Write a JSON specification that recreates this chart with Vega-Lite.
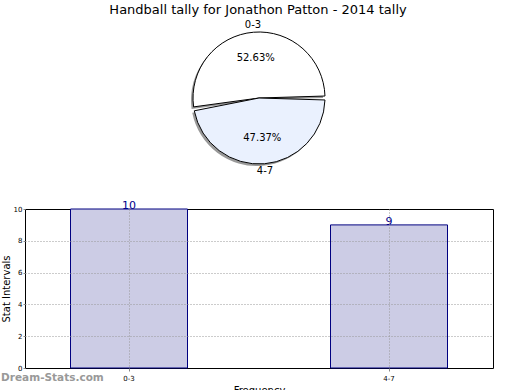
{
  "$schema": "https://vega.github.io/schema/vega-lite/v6.json",
  "padding": {"left": 0, "top": 3, "right": 0, "bottom": 0},
  "background": "white",
  "config": {
    "font": "DejaVu Sans",
    "view": {"stroke": null},
    "title": {"fontSize": 13, "fontWeight": "normal", "color": "black", "offset": 1.5}
  },
  "title": {"text": "Handball tally for Jonathon Patton - 2014 tally", "anchor": "middle", "dx": 11},
  "datasets": {
    "tally": [
      {"bin": "0-3", "count": 10, "pct": "52.63%"},
      {"bin": "4-7", "count": 9, "pct": "47.37%"}
    ]
  },
  "spacing": 21,
  "vconcat": [
    {
      "width": 468,
      "height": 160,
      "view": {"stroke": null},
      "data": {"name": "tally"},
      "encoding": {
        "theta": {"field": "count", "type": "quantitative", "stack": true, "scale": {"range": [1.5707963, 7.8539816]}},
        "order": {"field": "bin", "type": "ordinal", "sort": "descending"}
      },
      "layer": [
        {
          "mark": {"type": "arc", "outerRadius": 66, "padAngle": 0.06, "fill": "#999999", "xOffset": -2, "yOffset": 2}
        },
        {
          "mark": {"type": "arc", "outerRadius": 66, "padAngle": 0.06, "stroke": "black", "strokeWidth": 1},
          "encoding": {
            "color": {"field": "bin", "type": "nominal", "scale": {"domain": ["0-3", "4-7"], "range": ["#ffffff", "#eaf1fe"]}, "legend": null}
          }
        },
        {
          "mark": {"type": "text", "radius": 73, "fontSize": 10, "color": "black"},
          "encoding": {"text": {"field": "bin"}}
        },
        {
          "mark": {"type": "text", "radius": 40, "fontSize": 10, "color": "black"},
          "encoding": {"text": {"field": "pct"}}
        }
      ]
    },
    {
      "width": 468,
      "height": 159,
      "view": {"stroke": "black", "strokeWidth": 1},
      "data": {"name": "tally"},
      "title": {"text": "Dream-Stats.com", "orient": "bottom", "anchor": "start", "frame": "bounds", "fontSize": 10.5, "fontWeight": "bold", "color": "#999999", "offset": -22},
      "encoding": {
        "x": {
          "field": "bin", "type": "nominal", "title": "Frequency",
          "scale": {"paddingInner": 0.55, "paddingOuter": 0.175},
          "axis": {"labelAngle": 0, "labelFontSize": 7, "titleFontSize": 10, "titleFontWeight": "normal", "grid": true, "gridDash": [1, 2], "gridColor": "#999999", "bandPosition": 0.5, "tickSize": 3, "domain": false, "titlePadding": 4, "labelPadding": 3, "zindex": 1}
        },
        "y": {
          "field": "count", "type": "quantitative", "title": "Stat Intervals",
          "scale": {"domain": [0, 10]},
          "axis": {"values": [0, 2, 4, 6, 8, 10], "labelFontSize": 7, "titleFontSize": 10, "titleFontWeight": "normal", "gridDash": [1, 2], "gridColor": "#999999", "gridOpacity": {"condition": {"test": "datum.value == 0 || datum.value == 10", "value": 0}, "value": 1}, "tickSize": 2, "domain": false, "titlePadding": 2, "labelPadding": 1, "zindex": 1}
        }
      },
      "layer": [
        {"mark": {"type": "bar", "fill": "#ccccE5", "stroke": "#000080", "strokeWidth": 1}},
        {"mark": {"type": "text", "baseline": "alphabetic", "fontSize": 11, "color": "#00008b"}, "encoding": {"text": {"field": "count"}}}
      ]
    }
  ]
}
